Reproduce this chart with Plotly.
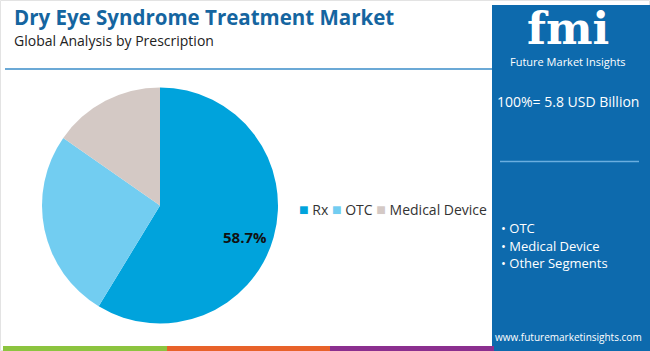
import plotly.graph_objects as go

W, H = 650, 351

categories = ["Rx", "OTC", "Medical Device"]
shares = [58.7, 26.0, 15.3]
colors = ["#00a3dc", "#72cdf1", "#d4c9c5"]
segments = ["OTC", "Medical Device", "Other Segments"]

def px(x):
    return x / W

def py(y):
    return 1 - y / H

fig = go.Figure()
fig.add_trace(go.Pie(
    labels=categories,
    values=shares,
    marker=dict(colors=colors, line=dict(width=0)),
    sort=False,
    direction="clockwise",
    rotation=0,
    textinfo="none",
    domain=dict(x=[px(42), px(278)], y=[py(323.5), py(87.5)]),
    hoverinfo="label+percent",
    showlegend=False,
))

shapes = [
    dict(type="rect", xref="paper", yref="paper", x0=px(0.5), x1=px(649.5), y0=py(350.5), y1=py(0.5),
         line=dict(color="#e3e3e3", width=1), fillcolor="rgba(0,0,0,0)", layer="below"),
    dict(type="rect", xref="paper", yref="paper", x0=px(492), x1=px(650), y0=py(346), y1=py(5),
         line=dict(width=0), fillcolor="#0d6aad", layer="below"),
    dict(type="line", xref="paper", yref="paper", x0=px(5), x1=px(492), y0=py(69), y1=py(69),
         line=dict(color="#3a8cc8", width=1.5)),
    dict(type="line", xref="paper", yref="paper", x0=px(500), x1=px(639), y0=py(161.5), y1=py(161.5),
         line=dict(color="#6aaee0", width=1.5)),
    dict(type="rect", xref="paper", yref="paper", x0=px(3), x1=px(167), y0=py(351), y1=py(346),
         line=dict(width=0), fillcolor="#8cc43f"),
    dict(type="rect", xref="paper", yref="paper", x0=px(167), x1=px(330), y0=py(351), y1=py(346),
         line=dict(width=0), fillcolor="#e8622a"),
    dict(type="rect", xref="paper", yref="paper", x0=px(330), x1=px(494), y0=py(351), y1=py(346),
         line=dict(width=0), fillcolor="#8b2f8f"),
    dict(type="rect", xref="paper", yref="paper", x0=px(494), x1=px(650), y0=py(351), y1=py(346),
         line=dict(width=0), fillcolor="#0d6aad"),
]

legend_text = " ".join(
    f"<span style='color:{c};font-size:16px'>■</span> {name}" for name, c in zip(categories, colors)
)

annotations = [
    dict(text="<b>Dry Eye Syndrome Treatment Market</b>", x=px(12), y=py(17), xref="paper", yref="paper",
         xanchor="left", yanchor="middle", showarrow=False,
         font=dict(family="Open Sans", size=20.5, color="#1565a0")),
    dict(text="Global Analysis by Prescription", x=px(12), y=py(41), xref="paper", yref="paper",
         xanchor="left", yanchor="middle", showarrow=False,
         font=dict(family="Open Sans", size=14, color="#222222")),
    dict(text="<b>fmi</b>", x=px(568), y=py(29), xref="paper", yref="paper",
         xanchor="center", yanchor="middle", showarrow=False,
         font=dict(family="DejaVu Serif", size=44, color="#ffffff")),
    dict(text="Future Market Insights", x=px(568), y=py(61), xref="paper", yref="paper",
         xanchor="center", yanchor="middle", showarrow=False,
         font=dict(family="Open Sans", size=11, color="#ffffff")),
    dict(text="100%= 5.8 USD Billion", x=px(568), y=py(101), xref="paper", yref="paper",
         xanchor="center", yanchor="middle", showarrow=False,
         font=dict(family="Open Sans", size=14, color="#ffffff")),
    dict(text="www.futuremarketinsights.com", x=px(568), y=py(337), xref="paper", yref="paper",
         xanchor="center", yanchor="middle", showarrow=False,
         font=dict(family="Open Sans", size=10, color="#ffffff")),
    dict(text=f"<b>{shares[0]}%</b>", x=px(245), y=py(237), xref="paper", yref="paper",
         xanchor="center", yanchor="middle", showarrow=False,
         font=dict(family="Open Sans", size=15, color="#111111")),
    dict(text=legend_text, x=px(297), y=py(209), xref="paper", yref="paper",
         xanchor="left", yanchor="middle", showarrow=False,
         font=dict(family="Open Sans", size=14, color="#333333")),
]
for i, s in enumerate(segments):
    annotations.append(dict(text="• " + s, x=px(499), y=py(228 + 17.5 * i), xref="paper", yref="paper",
                            xanchor="left", yanchor="middle", showarrow=False,
                            font=dict(family="Open Sans", size=13, color="#ffffff")))

fig.update_layout(
    width=W, height=H,
    margin=dict(l=0, r=0, t=0, b=0),
    paper_bgcolor="#ffffff",
    plot_bgcolor="#ffffff",
    shapes=shapes,
    annotations=annotations,
    showlegend=False,
)

fig.write_html("out.html")
